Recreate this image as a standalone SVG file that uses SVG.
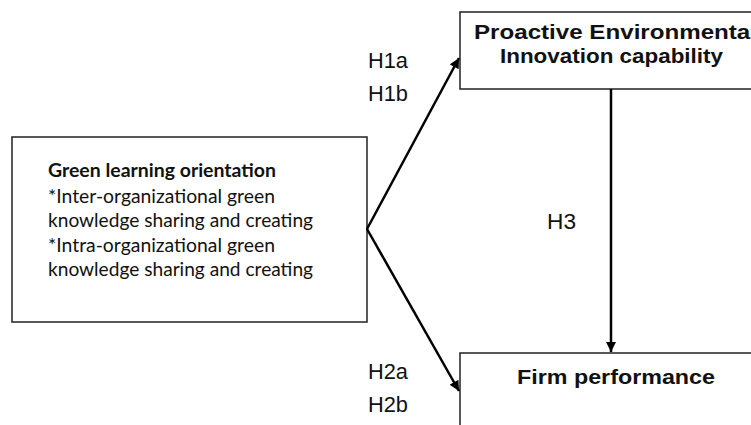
<svg xmlns="http://www.w3.org/2000/svg" width="751" height="425" viewBox="0 0 751 425">
<style>
.box{fill:#fff;stroke:#222;stroke-width:1.5}
.lbl{font-family:"Liberation Sans",Arial,sans-serif;font-size:21.5px;fill:#111}
.bt{font-family:"Liberation Sans",Arial,sans-serif;font-size:21px;font-weight:bold;fill:#111}
.cal{font-family:Lato,"Open Sans",sans-serif;font-size:19.5px;fill:#111}
.calb{font-family:Lato,"Open Sans",sans-serif;font-size:18px;font-weight:bold;fill:#111}
.conn{stroke:#000;stroke-width:2.5;fill:none}
</style>
<defs>
<marker id="ah" viewBox="0 0 10 10" refX="10" refY="5" markerWidth="4.4" markerHeight="4" orient="auto" markerUnits="strokeWidth">
<path d="M0,0 L10,5 L0,10 z" fill="#000"/>
</marker>
</defs>
<g id="node-green-learning">
<rect class="box" x="12" y="137" width="355" height="185"/>
<text class="calb" x="48" y="177" textLength="228" lengthAdjust="spacingAndGlyphs">Green learning orientation</text>
<text class="cal" x="48" y="203" textLength="227" lengthAdjust="spacingAndGlyphs">*Inter-organizational green</text>
<text class="cal" x="48" y="227" textLength="265" lengthAdjust="spacingAndGlyphs">knowledge sharing and creating</text>
<text class="cal" x="48" y="252" textLength="227" lengthAdjust="spacingAndGlyphs">*Intra-organizational green</text>
<text class="cal" x="48" y="276" textLength="265" lengthAdjust="spacingAndGlyphs">knowledge sharing and creating</text>
</g>
<g id="node-proactive">
<rect class="box" x="460" y="12" width="305" height="77"/>
<text class="bt" x="474" y="39" textLength="283" lengthAdjust="spacingAndGlyphs">Proactive Environmental</text>
<text class="bt" x="500" y="63" textLength="223" lengthAdjust="spacingAndGlyphs">Innovation capability</text>
</g>
<g id="node-firm">
<rect class="box" x="460" y="353" width="305" height="100"/>
<text class="bt" x="517" y="384" textLength="198" lengthAdjust="spacingAndGlyphs">Firm performance</text>
</g>
<g id="connectors">
<line class="conn" x1="367" y1="229" x2="459" y2="58" marker-end="url(#ah)"/>
<line class="conn" x1="367" y1="229" x2="459" y2="391" marker-end="url(#ah)"/>
<line class="conn" x1="611" y1="89" x2="611" y2="352" marker-end="url(#ah)"/>
<text class="lbl" x="368" y="68" textLength="40" lengthAdjust="spacingAndGlyphs">H1a</text>
<text class="lbl" x="368" y="101" textLength="40" lengthAdjust="spacingAndGlyphs">H1b</text>
<text class="lbl" x="547" y="229" textLength="29" lengthAdjust="spacingAndGlyphs">H3</text>
<text class="lbl" x="368" y="379" textLength="40" lengthAdjust="spacingAndGlyphs">H2a</text>
<text class="lbl" x="368" y="412" textLength="40" lengthAdjust="spacingAndGlyphs">H2b</text>
</g>
</svg>
